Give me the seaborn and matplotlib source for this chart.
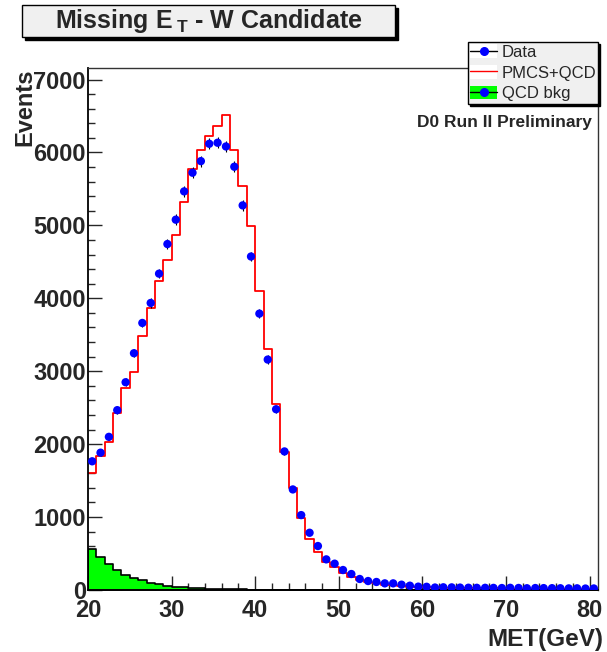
import numpy as np
import pandas as pd
import seaborn as sns
import matplotlib
matplotlib.use("Agg")
import matplotlib.pyplot as plt
from matplotlib.patches import Rectangle, Patch
from matplotlib.lines import Line2D
from matplotlib.ticker import MultipleLocator

# ---------------- data ----------------
met_edges = list(range(20, 82))              # 61 bins of 1 GeV, 20..81
met_centers = [e + 0.5 for e in met_edges[:-1]]

data_events = [1765, 1883, 2100, 2466, 2849, 3247, 3662, 3936, 4338, 4744,
               5078, 5466, 5722, 5881, 6119, 6133, 6082, 5804, 5274, 4573,
               3790, 3160, 2479, 1900, 1379, 1027, 785, 603, 420, 361,
               274, 219, 151, 123, 110, 91, 91, 73, 59, 46,
               44, 34, 37, 36, 33, 31, 30, 30, 29, 27,
               30, 28, 24, 27, 26, 25, 24, 22, 23, 20, 21]

pmcs_qcd = [1598, 1836, 2032, 2425, 2767, 2986, 3479, 3867, 4233, 4521,
            4867, 5319, 5776, 6036, 6228, 6365, 6507, 6032, 5544, 4986,
            4100, 3311, 2548, 1888, 1402, 990, 694, 520, 379, 311,
            237, 178, 137, 105, 91, 73, 64, 55, 46, 42,
            35, 31, 29, 27, 25, 24, 23, 22, 21, 20,
            19, 18, 18, 17, 16, 16, 15, 15, 14, 14, 13]

qcd_bkg = [561, 447, 351, 269, 210, 169, 132, 100, 78, 59,
           46, 37, 30, 23, 18, 14, 12, 9, 7, 5,
           4, 3, 3, 2, 2, 2, 1, 1, 1, 1,
           1, 0, 0, 0, 0, 0, 0, 0, 0, 0,
           0, 0, 0, 0, 0, 0, 0, 0, 0, 0,
           0, 0, 0, 0, 0, 0, 0, 0, 0, 0, 0]

legend_labels = ["Data", "PMCS+QCD", "QCD bkg"]
y_ticks = [0, 1000, 2000, 3000, 4000, 5000, 6000, 7000]
x_ticks = [20, 30, 40, 50, 60, 70, 80]

df = pd.DataFrame({"met": met_centers, "data": data_events,
                   "pmcs": pmcs_qcd, "qcd": qcd_bkg})

# ---------------- style ----------------
sns.set_style("ticks")
plt.rcParams["font.family"] = ["Liberation Sans", "DejaVu Sans"]
plt.rcParams["font.weight"] = "bold"
plt.rcParams["mathtext.fontset"] = "custom"
plt.rcParams["mathtext.rm"] = "Liberation Sans:bold"
plt.rcParams["mathtext.bf"] = "Liberation Sans:bold"

W, H = 607, 652
fig = plt.figure(figsize=(W / 100, H / 100), dpi=100)
fig.patch.set_facecolor("white")
ax = fig.add_axes([88 / W, 1 - 590 / H, 510 / W, 522 / H])
ax.set_facecolor("white")

# QCD background (green filled)
sns.histplot(data=df, x="met", weights="qcd", bins=met_edges, element="step",
             fill=True, color="#00ff00", alpha=1, edgecolor="black",
             linewidth=1.2, ax=ax)
# PMCS+QCD (red line)
sns.histplot(data=df, x="met", weights="pmcs", bins=met_edges, element="step",
             fill=False, color="red", linewidth=1.3, ax=ax)
# Data error bars + points
ax.errorbar(df["met"], df["data"], yerr=np.sqrt(df["data"]), fmt="none",
            ecolor="black", elinewidth=0.8, capsize=0, zorder=3)
sns.scatterplot(data=df, x="met", y="data", color="blue", s=36,
                edgecolor="none", linewidth=0, ax=ax, zorder=4)

ax.set_xlim(20, 81)
ax.set_ylim(0, 7158)
ax.set_xticks(x_ticks)
ax.set_yticks(y_ticks)
ax.xaxis.set_minor_locator(MultipleLocator(2))
ax.yaxis.set_minor_locator(MultipleLocator(200))
ax.tick_params(axis="both", which="major", direction="in", length=10,
               width=1, labelsize=17, top=False, right=False)
ax.tick_params(axis="both", which="minor", direction="in", length=5,
               width=1, top=False, right=False)
ax.tick_params(axis="y", which="major", pad=1.5)
ax.tick_params(axis="x", which="major", pad=6.5)
for lab in ax.get_xticklabels() + ax.get_yticklabels():
    lab.set_fontweight("bold")
for side in ["left", "bottom"]:
    ax.spines[side].set_color("black")
    ax.spines[side].set_linewidth(1.3)
for side in ["top", "right"]:
    ax.spines[side].set_color("#333333")
    ax.spines[side].set_linewidth(1.0)

ax.set_xlabel("MET(GeV)", fontsize=17.5, fontweight="bold", loc="right")
ax.xaxis.set_label_coords(1.01, -0.072)
ax.set_ylabel("Events", fontsize=17, fontweight="bold", loc="top")
ax.yaxis.set_label_coords(-0.102, 1.0)

ax.text(0.988, 0.895, "D0 Run II Preliminary", transform=ax.transAxes,
        ha="right", va="center", fontsize=12.5, fontweight="bold")

# ---------------- legend ----------------
h_data = Line2D([0], [0], color="black", lw=1, marker="o",
                markerfacecolor="blue", markeredgecolor="blue", markersize=5.5)
h_pmcs = (Patch(facecolor="white", edgecolor="none"),
          Line2D([0], [0], color="red", lw=1))
h_qcd = (Patch(facecolor="#00ff00", edgecolor="none"),
         Line2D([0], [0], color="black", lw=1, marker="o",
                markerfacecolor="blue", markeredgecolor="blue", markersize=5.5))
leg = ax.legend([(Patch(facecolor="white", edgecolor="none"), h_data), h_pmcs, h_qcd],
                legend_labels,
                bbox_to_anchor=(467.7 / W, 1 - 106.7 / H, 130 / W, 65 / H),
                bbox_transform=fig.transFigure, loc="upper left", mode="expand",
                borderaxespad=0, fancybox=False, framealpha=1,
                facecolor="#f0f0f0", edgecolor="black",
                prop={"family": "Liberation Sans", "weight": "normal", "size": 12},
                handlelength=1.6, handleheight=0.9, handletextpad=0.3,
                borderpad=0.15, labelspacing=0.3,
                shadow={"facecolor": "black", "edgecolor": "black", "alpha": 1})
leg.get_frame().set_linewidth(1)
leg.set_zorder(10)

# ---------------- title box ----------------
tx0, ty0, tw, th = 22, 5, 373, 32
fig.patches.append(Rectangle(((tx0 + 3) / W, 1 - (ty0 + th + 3) / H), tw / W, th / H,
                             transform=fig.transFigure, facecolor="black",
                             edgecolor="black", zorder=1))
fig.patches.append(Rectangle((tx0 / W, 1 - (ty0 + th) / H), tw / W, th / H,
                             transform=fig.transFigure, facecolor="#f0f0f0",
                             edgecolor="black", linewidth=1, zorder=2))
fig.text((tx0 + tw / 2) / W, 1 - (ty0 + th / 2) / H,
         r"Missing E$\,_{\mathbf{T}}$ - W Candidate",
         ha="center", va="center", fontsize=18, fontweight="bold", zorder=3)

fig.savefig("out.png", dpi=100, facecolor="white")
